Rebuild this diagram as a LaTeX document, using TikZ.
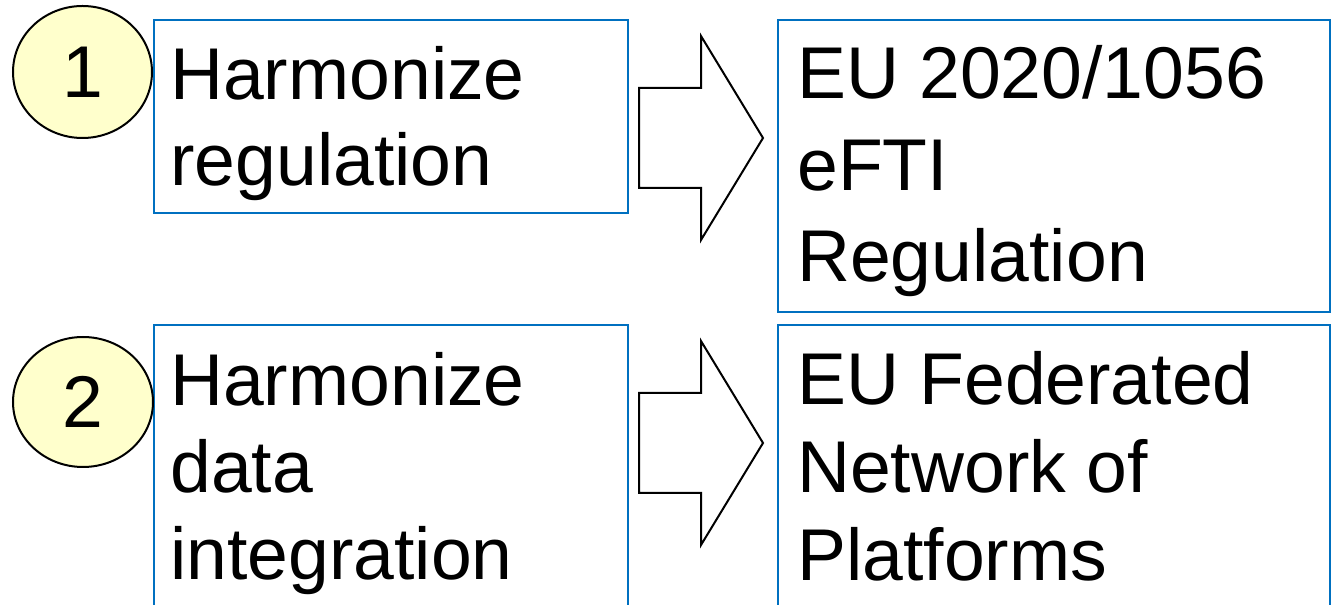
\documentclass[tikz,border=0pt]{standalone}
\usepackage{fontspec}
\setmainfont{Liberation Sans}
\usetikzlibrary{shapes.geometric}
\definecolor{boxblue}{HTML}{0070C0}
\definecolor{numfill}{HTML}{FFFFCC}
\begin{document}
\begin{tikzpicture}[x=0.75pt,y=-0.75pt,
  box/.style={draw=boxblue,line width=1.5pt,anchor=north west,inner sep=0pt},
  num/.style={ellipse,draw=black,line width=1.5pt,fill=numfill,inner sep=0pt,font=\fontsize{55}{66}\selectfont},
  txt/.style={anchor=base west,inner sep=0pt,font=\fontsize{55}{66}\selectfont},
  bigarrow/.style={draw=black,line width=1.5pt,fill=white,line join=miter}]
\useasboundingbox (0,0) rectangle (1332,605);
\clip (0,0) rectangle (1332,605);
\fill[white] (0,0) rectangle (1332,605);
% boxes
\node[box,minimum width=355.5pt,minimum height=144.75pt] (b1) at (153,19) {};
\node[box,minimum width=414pt,minimum height=219pt] (b2) at (777,19) {};
\node[box,minimum width=355.5pt,minimum height=225pt] (b3) at (153,324) {};
\node[box,minimum width=414pt,minimum height=225pt] (b4) at (777,324) {};
% texts
\node[txt] (t1a) at (170,100) {Harmonize};
\node[txt] (t1b) at (170,186) {regulation};
\node[txt] (t2a) at (797,99) {EU 2020/1056};
\node[txt] (t2b) at (797,191) {eFTI};
\node[txt] (t2c) at (797,282) {Regulation};
\node[txt] (t3a) at (170,406) {Harmonize};
\node[txt] (t3b) at (170,493) {data};
\node[txt] (t3c) at (170,580) {integration};
\node[txt] (t4a) at (797,405) {EU Federated};
\node[txt] (t4b) at (797,493) {Network of};
\node[txt] (t4c) at (797,581) {Platforms};
% block arrows
\draw[bigarrow] (639,88) -- (701,88) -- (701,36) -- (763,138) -- (701,240) -- (701,188) -- (639,188) -- cycle;
\draw[bigarrow] (639,393) -- (701,393) -- (701,341) -- (763,443) -- (701,545) -- (701,493) -- (639,493) -- cycle;
% number circles
\node[num,minimum width=104.25pt,minimum height=99pt] (n1) at (82.5,72) {\raisebox{-2pt}{1}};
\node[num,minimum width=105pt,minimum height=97.5pt] (n2) at (83,402) {\raisebox{-2pt}{2}};
\end{tikzpicture}
\end{document}
